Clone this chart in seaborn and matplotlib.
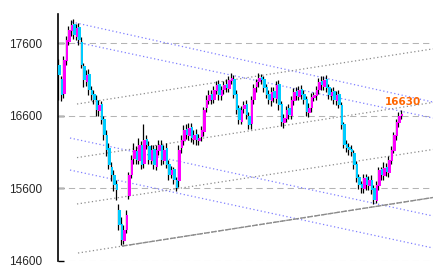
import matplotlib
matplotlib.use("Agg")
import matplotlib.pyplot as plt
import seaborn as sns
import pandas as pd
import numpy as np

# ---------------- data ----------------
closes = [17160, 16885, 17370, 17640, 17780, 17850, 17710, 17805, 17640, 17300,
          17090, 17160, 16950, 16885, 16815, 16680, 16745, 16540, 16335, 16130,
          15920, 15785, 15645, 15580, 15095, 14890, 15025, 15235, 15785, 15990,
          16130, 15990, 16195, 15920, 16265, 16195, 15990, 16130, 15920, 16130,
          16195, 15990, 16130, 15920, 15785, 15850, 15715, 15605, 16130, 16265,
          16405, 16335, 16430, 16290, 16335, 16265, 16290, 16405, 16680, 16815,
          16885, 16815, 16955, 17020, 16885, 16955, 17020, 16980, 17090, 17120,
          16885, 16680, 16540, 16680, 16745, 16610, 16470, 16815, 16980, 17065,
          17120, 17090, 16980, 16885, 16815, 16925, 16845, 17020, 16745, 16515,
          16570, 16680, 16610, 16815, 16925, 16870, 16955, 16885, 16815, 16650,
          16710, 16860, 16885, 16955, 17065, 17020, 17090, 16980, 16885, 16925,
          16815, 16885, 16745, 16470, 16195, 16155, 16130, 16100, 15920, 15745,
          15645, 15605, 15745, 15645, 15715, 15580, 15440, 15645, 15850, 15785,
          15880, 15825, 15990, 16130, 16335, 16515, 16600, 16630]

opens = [17300, 17100, 16900, 17350, 17620, 17760, 17860, 17690, 17820, 17620,
         17280, 17060, 17170, 16960, 16900, 16820, 16660, 16760, 16560, 16330,
         16150, 15900, 15790, 15660, 15300, 15110, 14880, 15030, 15500, 15790,
         16000, 16120, 15980, 16200, 15930, 16280, 16180, 15980, 16140, 15900,
         16120, 16200, 15980, 16150, 15930, 15780, 15860, 15720, 15700, 16150,
         16250, 16420, 16320, 16450, 16270, 16350, 16250, 16300, 16380, 16700,
         16800, 16900, 16820, 16940, 17040, 16870, 16960, 17040, 16970, 17080,
         17100, 16900, 16700, 16520, 16690, 16760, 16600, 16480, 16820, 16990,
         17060, 17130, 17100, 16990, 16900, 16800, 16940, 16830, 17030, 16760,
         16500, 16560, 16700, 16600, 16800, 16940, 16860, 16970, 16900, 16830,
         16640, 16700, 16850, 16870, 16950, 17080, 17000, 17100, 16990, 16870,
         16940, 16800, 16900, 16750, 16480, 16210, 16170, 16140, 16090, 15930,
         15760, 15660, 15590, 15760, 15630, 15720, 15600, 15430, 15630, 15860,
         15770, 15900, 15810, 15980, 16120, 16320, 16500, 16590]

highs = [17380, 17150, 17420, 17700, 17840, 17920, 17930, 17860, 17870, 17680,
         17330, 17230, 17240, 17010, 16960, 16880, 16820, 16800, 16600, 16400,
         16220, 15960, 15850, 15720, 15380, 15200, 15100, 15300, 15830, 16060,
         16230, 16180, 16290, 16250, 16480, 16330, 16250, 16200, 16200, 16200,
         16260, 16260, 16200, 16220, 15990, 15910, 15900, 15760, 16200, 16330,
         16470, 16480, 16500, 16500, 16400, 16420, 16350, 16460, 16720, 16880,
         16950, 16960, 17010, 17080, 17090, 17010, 17080, 17100, 17140, 17190,
         17160, 16950, 16750, 16740, 16800, 16820, 16650, 16870, 17040, 17110,
         17190, 17180, 17150, 17040, 16960, 16990, 16990, 17080, 17090, 16800,
         16630, 16740, 16760, 16870, 16980, 16990, 17010, 17020, 16950, 16870,
         16770, 16910, 16930, 17010, 17120, 17140, 17150, 17160, 17040, 16980,
         16990, 16940, 16950, 16790, 16520, 16260, 16220, 16200, 16130, 15980,
         15800, 15700, 15800, 15800, 15770, 15780, 15650, 15700, 15900, 15900,
         15960, 15950, 16040, 16180, 16380, 16560, 16650, 16680]

lows = [16820, 16800, 16850, 17300, 17580, 17700, 17650, 17640, 17580, 17250,
        17000, 17010, 16880, 16820, 16760, 16600, 16600, 16480, 16260, 16050,
        15860, 15700, 15560, 15440, 15020, 14820, 14840, 14980, 15450, 15740,
        15940, 15930, 15930, 15860, 15880, 16140, 15940, 15930, 15860, 15850,
        16060, 15920, 15930, 15880, 15720, 15740, 15660, 15560, 15620, 16080,
        16200, 16280, 16260, 16240, 16210, 16200, 16200, 16250, 16320, 16650,
        16760, 16760, 16770, 16900, 16820, 16820, 16900, 16920, 16930, 17030,
        16840, 16620, 16480, 16480, 16640, 16560, 16420, 16420, 16760, 16930,
        17000, 17030, 16920, 16840, 16760, 16740, 16790, 16780, 16680, 16460,
        16430, 16520, 16560, 16560, 16750, 16820, 16810, 16830, 16760, 16600,
        16580, 16650, 16800, 16820, 16900, 16960, 16950, 16930, 16830, 16820,
        16760, 16750, 16700, 16420, 16150, 16100, 16060, 16040, 15860, 15690,
        15590, 15540, 15540, 15580, 15580, 15520, 15380, 15400, 15580, 15720,
        15720, 15770, 15760, 15930, 16080, 16270, 16450, 16560]

ytick_values = [14600, 15600, 16600, 17600]
last_label = "16630"

# trend lines: (start index, start value, end index, end value)
blue_lines = [(5.2, 17889, 149.6, 16788),
              (7.2, 17610, 149.6, 16568),
              (4.4, 16293, 149.6, 15220),
              (4.4, 15852, 149.6, 14779)]
gray_lines = [(7.6, 14710, 149.6, 15474),
              (7.2, 15385, 149.6, 16135),
              (7.2, 16023, 149.6, 16783),
              (7.2, 16761, 149.6, 17520)]

# ---------------- figure ----------------
sns.set_style("white")
plt.rcParams['font.family'] = ['Liberation Sans', 'DejaVu Sans']

fig = plt.figure(figsize=(4.33, 2.75), dpi=100)
ax = fig.add_axes([58/433, 14/275, (433-58)/433, 247/275])

df = pd.DataFrame({"open": opens, "high": highs, "low": lows, "close": closes})
df["idx"] = np.arange(len(df))

# gridlines
for v in ytick_values:
    ax.axhline(v, color="#b4b4b4", lw=0.75, ls=(0, (6, 4)), zorder=1)

# trend lines drawn with seaborn
for x0, y0, x1, y1 in blue_lines:
    tl = pd.DataFrame({"x": [x0, x1], "y": [y0, y1]})
    sns.lineplot(data=tl, x="x", y="y", ax=ax, color="#8080ff", lw=0.9,
                 linestyle=(0, (1, 2)), zorder=2)
for x0, y0, x1, y1 in gray_lines:
    tl = pd.DataFrame({"x": [x0, x1], "y": [y0, y1]})
    sns.lineplot(data=tl, x="x", y="y", ax=ax, color="#8c8c8c", lw=0.9,
                 linestyle=(0, (1, 2)), zorder=2)
# solid part of the main support line (after the low)
x0, y0, x1, y1 = gray_lines[0]
xs = 25.2
ys = y0 + (y1 - y0) * (xs - x0) / (x1 - x0)
ax.plot([xs, x1], [ys, y1], color="#8c8c8c", lw=1.0, ls=(0, (4, 1)), zorder=2)

# candles
ax.vlines(df["idx"] - 0.4, df["low"], df["high"], color="black", lw=0.9,
          zorder=3)
up = df["close"] >= df["open"]
bot = np.minimum(df["open"], df["close"])
hgt = np.abs(df["close"] - df["open"]).clip(lower=25)
ax.bar(df["idx"][up] + 0.1, hgt[up], bottom=bot[up], width=1.0, color="#ff00ff",
       edgecolor="none", zorder=4)
ax.bar(df["idx"][~up] + 0.1, hgt[~up], bottom=bot[~up], width=1.0, color="#00ccff",
       edgecolor="none", zorder=4)

ax.text(137.6, 16788, last_label, color="#ff6600", fontsize=7.5, fontweight="bold",
        ha="center", va="center", family=["DejaVu Sans"], zorder=5)

ax.set_xlim(-0.4, 149.6)
ax.set_ylim(14600, 18000)
ax.set_yticks(ytick_values)
ax.set_yticklabels([str(v) for v in ytick_values])
ax.set_xticks([])
ax.set_xlabel("")
ax.set_ylabel("")
for s in ["top", "right", "bottom"]:
    ax.spines[s].set_visible(False)
ax.spines["left"].set_color("black")
ax.spines["left"].set_linewidth(1.2)
ax.tick_params(axis="y", direction="in", length=4, width=1, color="black",
               pad=11.5, labelsize=8.5, left=True)
ax.patch.set_alpha(0)
fig.patch.set_facecolor("white")

fig.savefig("out.png", dpi=100)
